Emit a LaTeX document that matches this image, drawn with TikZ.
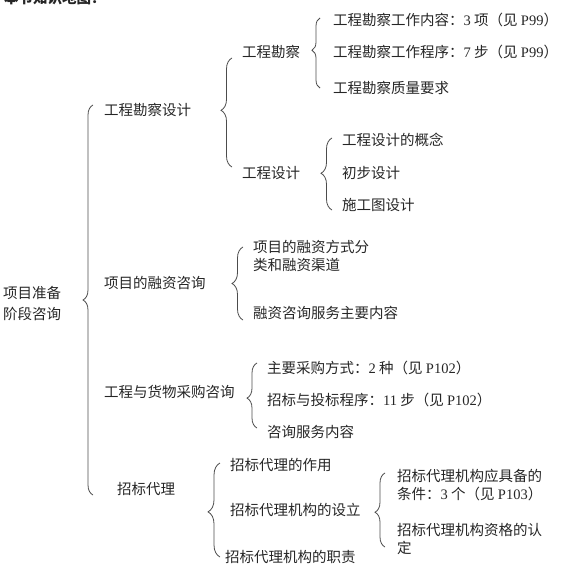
\documentclass[tikz,border=0pt]{standalone}
\usepackage{fontspec}
\setmainfont{Noto Sans CJK SC}
\newfontfamily\latn{Liberation Serif}
\usetikzlibrary{decorations.pathreplacing}
\begin{document}
\begin{tikzpicture}[x=1pt,y=-1pt,
  txt/.style={inner sep=0pt, anchor=west, align=left, text=black!85,
    font=\fontsize{14.5}{17.5}\selectfont},
  br/.style={draw=black!70, line width=0.8pt, decorate,
    decoration={brace, amplitude=#1}},
  br/.default=10pt]
\useasboundingbox (0,0) rectangle (560,575);
% clipped title
\node[txt, anchor=base west, font=\fontsize{14.5}{17.5}\selectfont\bfseries] (title) at (4,4) {本节知识地图：};
% root
\node[txt, font=\fontsize{14.5}{21}\selectfont] (root) at (3,304) {项目准备\\阶段咨询};
% level 1
\node[txt] (a1) at (104,110) {工程勘察设计};
\node[txt] (a2) at (104,283) {项目的融资咨询};
\node[txt] (a3) at (104,392) {工程与货物采购咨询};
\node[txt] (a4) at (117,489) {招标代理};
% level 2
\node[txt] (b1) at (242,52) {工程勘察};
\node[txt] (b2) at (242,173) {工程设计};
\node[txt] (c1) at (333,20) {工程勘察工作内容：{\latn 3} 项（见 {\latn P99}）};
\node[txt] (c2) at (333,52) {工程勘察工作程序：{\latn 7} 步（见 {\latn P99}）};
\node[txt] (c3) at (333,88) {工程勘察质量要求};
\node[txt] (d1) at (342,140) {工程设计的概念};
\node[txt] (d2) at (342,173) {初步设计};
\node[txt] (d3) at (342,205) {施工图设计};
\node[txt] (e1) at (253,256) {项目的融资方式分\\类和融资渠道};
\node[txt] (e2) at (253,313) {融资咨询服务主要内容};
\node[txt] (f1) at (267,368) {主要采购方式：{\latn 2} 种（见 {\latn P102}）};
\node[txt] (f2) at (267,400) {招标与投标程序：{\latn 11} 步（见 {\latn P102}）};
\node[txt] (f3) at (267,432) {咨询服务内容};
\node[txt] (g1) at (230,465) {招标代理的作用};
\node[txt] (g2) at (230,510) {招标代理机构的设立};
\node[txt] (g3) at (225,557) {招标代理机构的职责};
\node[txt] (h1) at (397,485) {招标代理机构应具备的\\条件：{\latn 3} 个（见 {\latn P103}）};
\node[txt] (h2) at (397,539) {招标代理机构资格的认\\定};
% brace end points
\coordinate (k0t) at (93,105);  \coordinate (k0b) at (93,495);
\coordinate (k1t) at (232,58);  \coordinate (k1b) at (232,167);
\coordinate (k2t) at (320,18);  \coordinate (k2b) at (320,88);
\coordinate (k3t) at (332,138); \coordinate (k3b) at (332,210);
\coordinate (k4t) at (243,247); \coordinate (k4b) at (243,320);
\coordinate (k5t) at (257,363); \coordinate (k5b) at (257,428);
\coordinate (k6t) at (220,463); \coordinate (k6b) at (220,557);
\coordinate (k7t) at (385,473); \coordinate (k7b) at (385,547);
% braces
\draw[br=10pt, decoration={aspect=0.5}]  (k0b) -- (k0t);
\draw[br=11pt, decoration={aspect=0.52}] (k1b) -- (k1t);
\draw[br=8pt,  decoration={aspect=0.54}] (k2b) -- (k2t);
\draw[br=11pt, decoration={aspect=0.51}] (k3b) -- (k3t);
\draw[br=11pt, decoration={aspect=0.5}]  (k4b) -- (k4t);
\draw[br=10pt, decoration={aspect=0.46}] (k5b) -- (k5t);
\draw[br=12pt, decoration={aspect=0.48}] (k6b) -- (k6t);
\draw[br=10pt, decoration={aspect=0.47}] (k7b) -- (k7t);
\end{tikzpicture}
\end{document}
